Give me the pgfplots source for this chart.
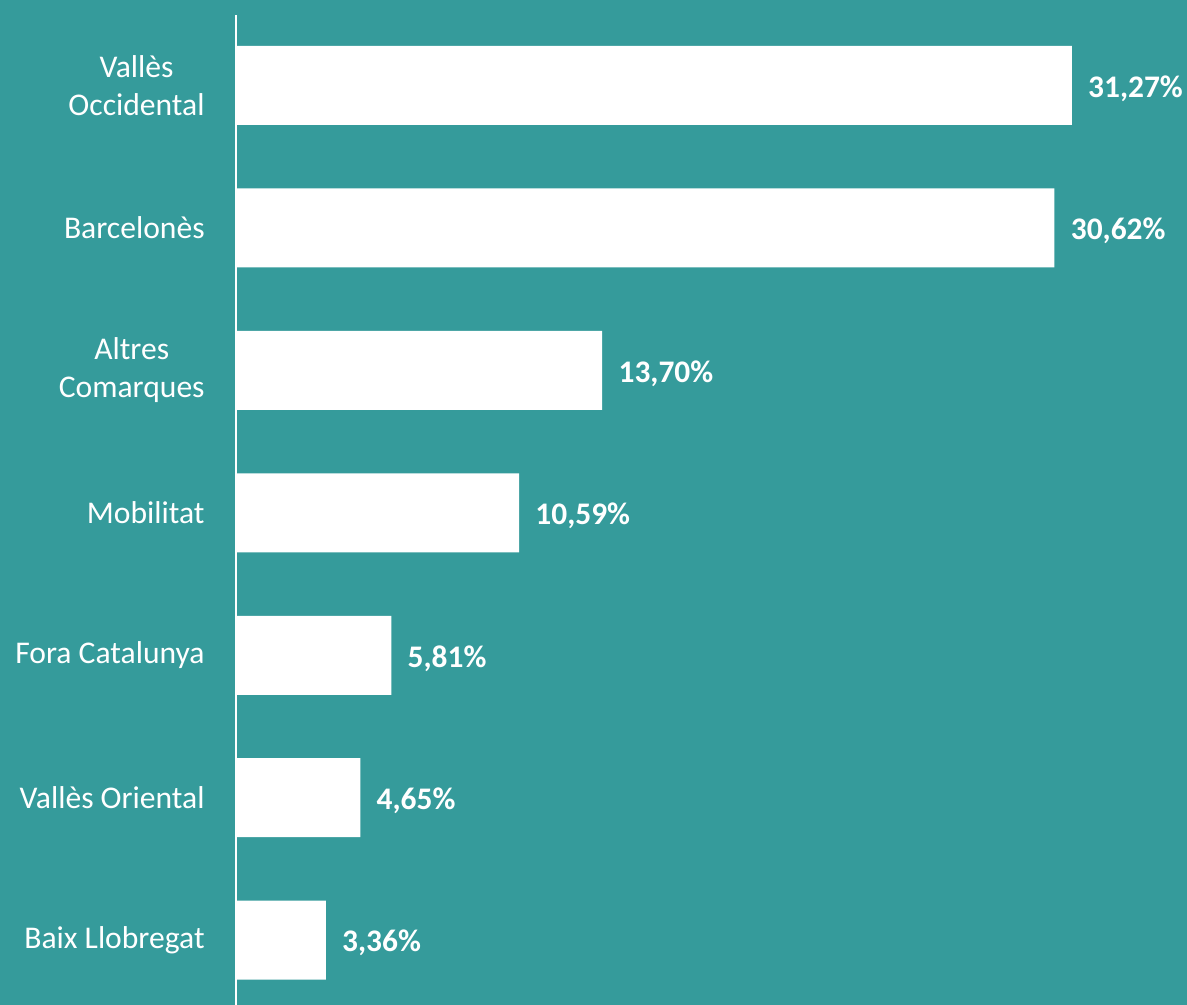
\documentclass[border=0pt]{standalone}
\usepackage{pgfplots}
\pgfplotsset{compat=1.18}
\usepackage{fontspec}
\setmainfont{Carlito}
\definecolor{bg}{RGB}{53,155,155}
\begin{document}
\begin{tikzpicture}
\fill[bg] (-118pt,0pt) rectangle (475.5pt,502.5pt);
\begin{axis}[
  at={(0pt,0pt)}, anchor=south west,
  scale only axis,
  width=475.5pt, height=495pt,
  xmin=0, xmax=35.58,
  ymin=-0.455, ymax=6.495,
  xbar, bar width=39.5pt, bar shift=0pt,
  hide x axis,
  axis y line*=left,
  axis line style={white, line width=1pt, -},
  ytick={0,1,2,3,4,5,6},
  yticklabels={Baix Llobregat, Vallès Oriental, Fora Catalunya, Mobilitat, {Altres\\Comarques}, Barcelonès, {Vallès\\Occidental}},
  major tick length=0pt,
  yticklabel style={font=\fontsize{15.8}{19}\selectfont, text=white, align=center, inner sep=0pt, xshift=-15.5pt},
  /pgf/number format/assume math mode=true,
  nodes near coords={\pgfmathprintnumber[fixed, fixed zerofill, precision=2, use comma, assume math mode=true]{\pgfplotspointmeta}\%},
  nodes near coords style={font=\bfseries\fontsize{15.7}{19}\selectfont, text=white, anchor=west, inner sep=0pt, xshift=8pt, yshift=-1.5pt},
  clip=false,
]
\addplot[fill=white, draw=none] coordinates {
(3.36,0) (4.65,1) (5.81,2) (10.59,3) (13.70,4) (30.62,5) (31.27,6)
};
\end{axis}
\pgfresetboundingbox
\useasboundingbox (-118pt,0pt) rectangle (475.5pt,502.5pt);
\end{tikzpicture}
\end{document}
